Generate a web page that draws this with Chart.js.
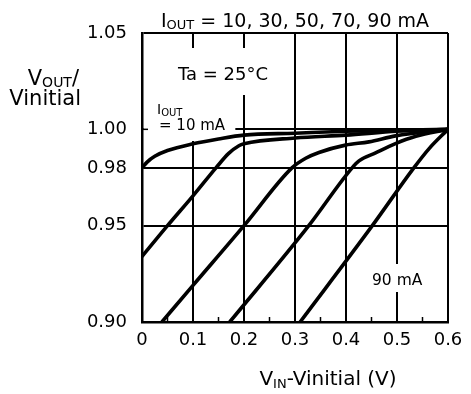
<!DOCTYPE html>
<html>
<head>
<meta charset="utf-8">
<script src="https://cdn.jsdelivr.net/npm/chart.js@4/dist/chart.umd.min.js"></script>
<style>
  html, body { margin: 0; padding: 0; background: #fff; }
  #wrap { width: 471px; height: 394px; }
</style>
</head>
<body>
<div id="wrap"><canvas id="chart" width="471" height="394"></canvas></div>
<script>
// axis ticks
const xTicks = [0, 0.1, 0.2, 0.3, 0.4, 0.5, 0.6];
const yTicks = [0.90, 0.95, 0.98, 1.00, 1.05];

// VIN - Vinitial (V) vs VOUT / Vinitial, one pair per IOUT
const vin10 = [0, 0.01, 0.025, 0.05, 0.1, 0.15, 0.2, 0.3, 0.4, 0.5, 0.6];
const vout10 = [0.980, 0.983, 0.986, 0.989, 0.9925, 0.995, 0.997, 0.998, 0.999, 0.9995, 1.0];

const vin30 = [0, 0.05, 0.1, 0.145, 0.17, 0.19, 0.2, 0.3, 0.4, 0.5, 0.6];
const vout30 = [0.934, 0.950, 0.9655, 0.980, 0.9875, 0.9915, 0.9925, 0.9955, 0.997, 0.999, 1.0];

const vin50 = [0.039, 0.1, 0.2, 0.294, 0.321, 0.347, 0.399, 0.445, 0.497, 0.6];
const vout50 = [0.90, 0.919, 0.95, 0.980, 0.985, 0.988, 0.9918, 0.9935, 0.9966, 1.0];

const vin70 = [0.172, 0.327, 0.412, 0.4255, 0.458, 0.497, 0.537, 0.6];
const vout70 = [0.90, 0.95, 0.980, 0.9836, 0.9878, 0.9926, 0.9964, 1.0];

const vin90 = [0.31, 0.4516, 0.533, 0.563, 0.6];
const vout90 = [0.90, 0.95, 0.98, 0.990, 1.0];

const seriesNames = ["10 mA", "30 mA", "50 mA", "70 mA", "90 mA"];
const seriesX = [vin10, vin30, vin50, vin70, vin90];
const seriesY = [vout10, vout30, vout50, vout70, vout90];

const FONT = '"DejaVu Sans", sans-serif';

function toPoints(xs, ys) {
  return xs.map((x, i) => ({ x: x, y: ys[i] }));
}

// draws text made of parts [text, size, dy] (dy > 0 = subscript)
function drawParts(ctx, parts, x, y, align) {
  let total = 0;
  parts.forEach(p => {
    ctx.font = p[1] + "px " + FONT;
    total += ctx.measureText(p[0]).width;
  });
  let cx = x;
  if (align === "right") cx = x - total;
  if (align === "center") cx = x - total / 2;
  ctx.textAlign = "left";
  ctx.textBaseline = "alphabetic";
  parts.forEach(p => {
    ctx.font = p[1] + "px " + FONT;
    ctx.fillText(p[0], cx, y + p[2]);
    cx += ctx.measureText(p[0]).width;
  });
}

const annotations = {
  id: "annotations",
  beforeDatasetsDraw(chart) {
    const ctx = chart.ctx;
    const xs = chart.scales.x, ys = chart.scales.y;
    ctx.save();
    ctx.fillStyle = "#fff";
    // white boxes behind the in-plot labels (grid is broken there)
    const l = xs.getPixelForValue(0) + 2;
    const top = ys.getPixelForValue(1.05);
    ctx.fillRect(l, top + 15, xs.getPixelForValue(0.27) - l, 47);
    ctx.fillRect(l, top + 60, xs.getPixelForValue(0.183) - l, 48);
    ctx.fillRect(xs.getPixelForValue(0.445), ys.getPixelForValue(0.90) - 58, 60, 28);
    ctx.restore();
  },
  afterDraw(chart) {
    const ctx = chart.ctx;
    const xs = chart.scales.x, ys = chart.scales.y;
    const area = chart.chartArea;
    ctx.save();
    ctx.fillStyle = "#000";
    ctx.strokeStyle = "#000";

    // minor ticks on the bottom axis
    ctx.lineWidth = 1.5;
    for (let i = 0; i < xTicks.length - 1; i++) {
      const px = xs.getPixelForValue((xTicks[i] + xTicks[i + 1]) / 2);
      ctx.beginPath();
      ctx.moveTo(px, area.bottom);
      ctx.lineTo(px, area.bottom - 5);
      ctx.stroke();
    }
    // short tick at 1.00 on the left edge
    const py = ys.getPixelForValue(1.0);
    ctx.beginPath();
    ctx.moveTo(area.left, py);
    ctx.lineTo(area.left + 6, py);
    ctx.stroke();

    // top title
    drawParts(ctx, [["I", 19, 0], ["OUT", 13, 2], [" = 10, 30, 50, 70, 90 mA", 19, 0]],
      (area.left + area.right) / 2, 27, "center");

    // y title
    drawParts(ctx, [["V", 21, 0], ["OUT", 14, 2], ["/", 21, 0]], 79, 85, "right");
    drawParts(ctx, [["Vinitial", 21, 0]], 81, 105, "right");

    // x title
    drawParts(ctx, [["V", 20, 0], ["IN", 13, 3], ["-Vinitial (V)", 20, 0]], 328, 385, "center");

    // in-plot labels
    drawParts(ctx, [["Ta = 25°C", 18, 0]], 178, 80, "left");
    drawParts(ctx, [["I", 14, 0], ["OUT", 10, 2]], 157, 114, "left");
    drawParts(ctx, [["= 10 mA", 15, 0]], 159, 130, "left");
    drawParts(ctx, [["90 mA", 15.5, 0]], 372, 285, "left");

    ctx.restore();
  }
};

const datasets = seriesNames.map((name, i) => ({
  label: name,
  data: toPoints(seriesX[i], seriesY[i]),
  borderColor: "#000",
  borderWidth: 3.6,
  pointRadius: 0,
  fill: false,
  cubicInterpolationMode: "monotone"
}));

new Chart(document.getElementById("chart"), {
  type: "line",
  data: { datasets: datasets },
  options: {
    responsive: false,
    animation: false,
    events: [],
    layout: { padding: { left: 0, right: 23, top: 33, bottom: 0 } },
    plugins: { legend: { display: false }, tooltip: { enabled: false } },
    scales: {
      x: {
        type: "linear",
        min: 0,
        max: 0.6,
        afterBuildTicks: s => { s.ticks = xTicks.map(v => ({ value: v })); },
        afterFit: s => { s.height = 72; },
        ticks: {
          color: "#000",
          padding: 8,
          font: { family: FONT, size: 18 },
          callback: v => (v === 0 ? "0" : v.toFixed(1))
        },
        grid: { color: "#000", lineWidth: 2, drawTicks: false },
        border: { color: "#000", width: 2.5 }
      },
      y: {
        type: "linear",
        min: 0.90,
        max: 1.05,
        afterBuildTicks: s => { s.ticks = yTicks.map(v => ({ value: v })); },
        afterFit: s => { s.width = 142; },
        ticks: {
          color: "#000",
          padding: 15,
          font: { family: FONT, size: 18 },
          callback: v => v.toFixed(2)
        },
        grid: { color: "#000", lineWidth: 2, drawTicks: false },
        border: { color: "#000", width: 2.5 }
      }
    }
  },
  plugins: [annotations]
});
</script>
</body>
</html>
